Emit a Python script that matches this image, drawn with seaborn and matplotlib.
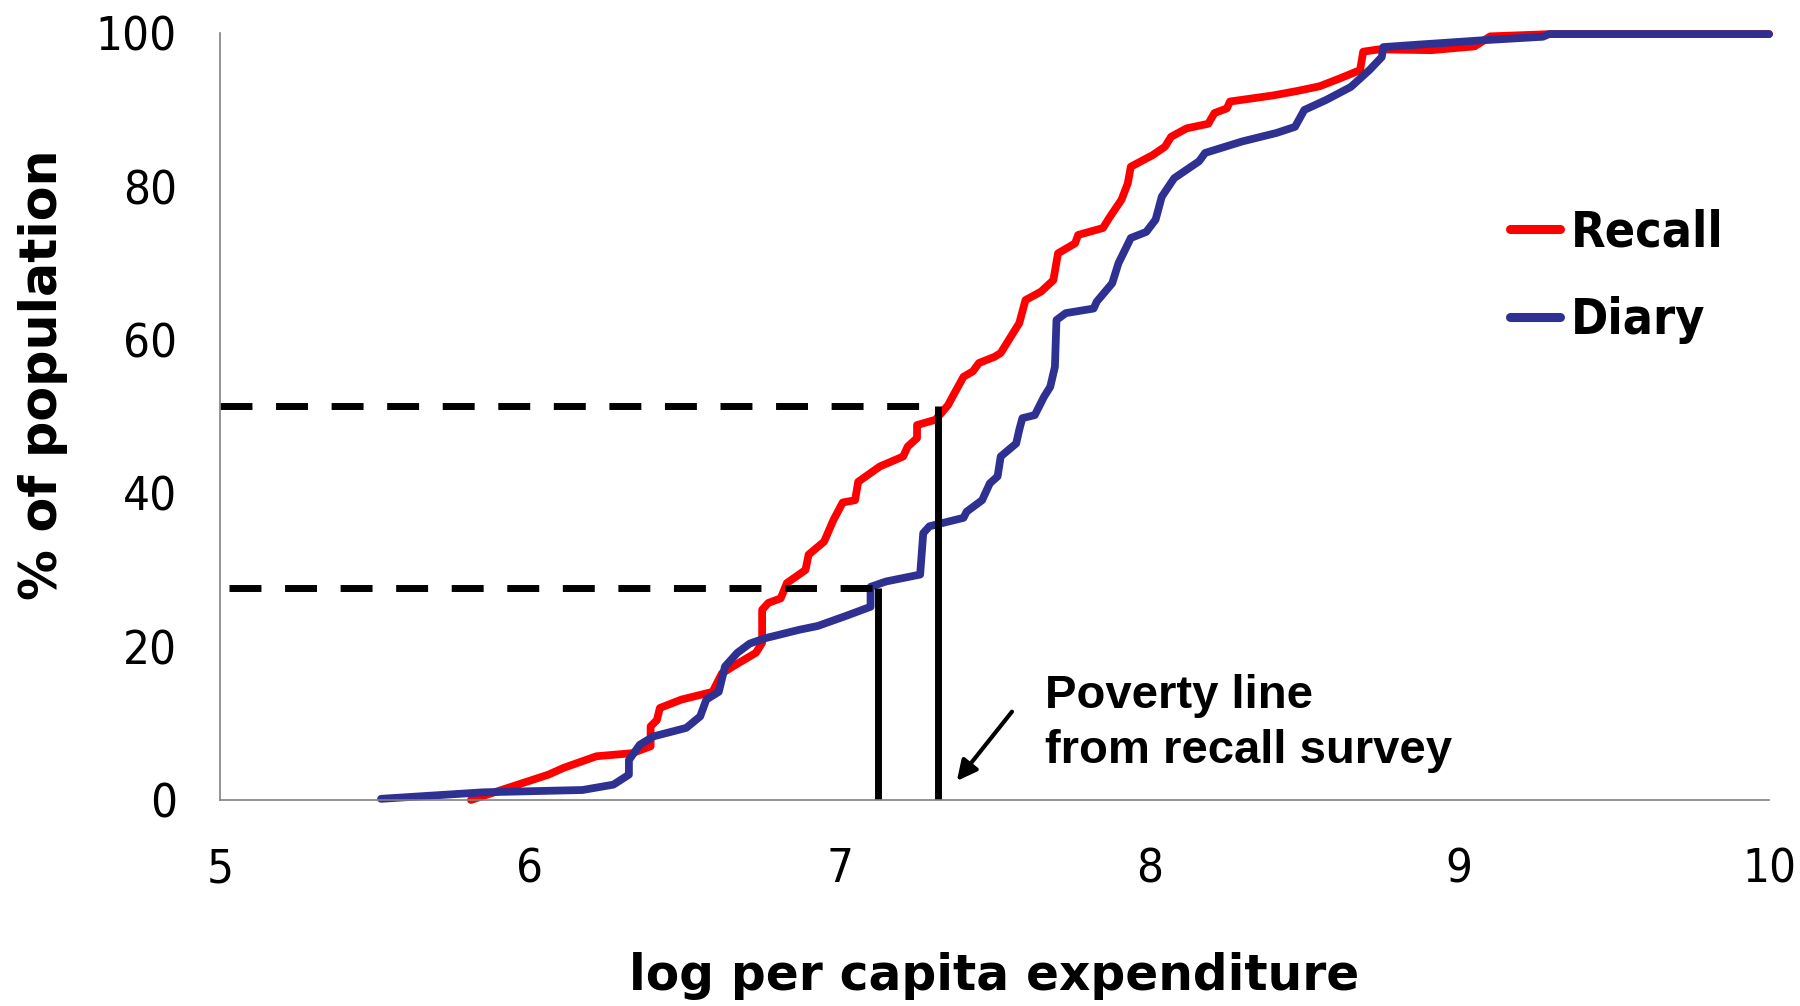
import numpy as np
import pandas as pd
import matplotlib
matplotlib.use("Agg")
import seaborn as sns
import matplotlib.pyplot as plt
from matplotlib.lines import Line2D

# cumulative distribution
recall_x = [5.81, 6.06, 6.11, 6.215, 6.33, 6.39, 6.39, 6.41, 6.42, 6.49, 6.59, 6.62, 6.655,
            6.73, 6.75, 6.75, 6.77, 6.81, 6.83, 6.89, 6.90, 6.95, 6.98, 7.01, 7.05, 7.06,
            7.13, 7.205, 7.22, 7.25, 7.25, 7.31, 7.35, 7.37, 7.40, 7.43, 7.45, 7.50, 7.52,
            7.58, 7.60, 7.65, 7.69, 7.705, 7.76, 7.77, 7.85, 7.87, 7.91, 7.93, 7.94, 8.01,
            8.05, 8.07, 8.12, 8.19, 8.21, 8.25, 8.26, 8.40, 8.48, 8.55, 8.62, 8.68, 8.69,
            8.74, 8.91, 9.05, 9.10, 9.30, 10.0]
recall_y = [0.0, 3.3, 4.2, 5.7, 6.1, 7.0, 9.6, 10.4, 12.0, 13.1, 14.1, 16.5, 17.4,
            19.2, 20.5, 24.8, 25.7, 26.3, 28.3, 30.0, 32.0, 33.7, 36.5, 38.8, 39.1, 41.5,
            43.5, 44.8, 46.1, 47.2, 48.9, 49.6, 51.5, 53.0, 55.2, 55.9, 57.0, 57.8, 58.3,
            62.2, 65.2, 66.3, 67.8, 71.3, 72.6, 73.7, 74.6, 75.9, 78.3, 80.4, 82.6, 84.1,
            85.2, 86.5, 87.6, 88.2, 89.6, 90.2, 91.1, 91.9, 92.5, 93.1, 94.2, 95.2, 97.6,
            97.9, 97.8, 98.3, 99.6, 99.9, 99.9]

diary_x = [5.52, 5.85, 6.17, 6.27, 6.32, 6.32, 6.355, 6.40, 6.505, 6.55, 6.57, 6.61, 6.63,
           6.67, 6.71, 6.76, 6.87, 6.93, 7.02, 7.10, 7.10, 7.15, 7.26, 7.27, 7.29, 7.40,
           7.41, 7.46, 7.485, 7.51, 7.52, 7.57, 7.58, 7.59, 7.63, 7.66, 7.68, 7.695, 7.70,
           7.73, 7.82, 7.83, 7.88, 7.90, 7.94, 7.99, 8.02, 8.04, 8.08, 8.16, 8.18, 8.30,
           8.41, 8.47, 8.50, 8.57, 8.65, 8.71, 8.75, 8.755, 8.86, 9.08, 9.27, 9.29, 10.0]
diary_y = [0.15, 1.0, 1.3, 2.0, 3.3, 5.2, 7.2, 8.3, 9.4, 10.9, 13.1, 14.1, 17.4,
           19.2, 20.4, 21.1, 22.2, 22.7, 24.0, 25.2, 27.8, 28.5, 29.4, 34.8, 35.7, 36.8,
           37.6, 39.1, 41.3, 42.2, 44.8, 46.5, 48.3, 49.8, 50.2, 52.6, 53.9, 56.5, 62.6,
           63.5, 64.1, 65.0, 67.4, 70.0, 73.3, 74.1, 75.7, 78.7, 81.1, 83.3, 84.4, 85.9,
           87.0, 87.8, 90.0, 91.3, 93.0, 95.2, 96.9, 98.2, 98.5, 99.1, 99.55, 99.9, 99.9]

# poverty line from recall survey and the matching one for the diary
poverty_x = [7.123, 7.318]
headcount = [27.7, 51.4]
dash_start = [5.03, 5.0]

colors = {"Recall": "#FF0000", "Diary": "#2E3192"}

df = pd.concat([
    pd.DataFrame({"x": recall_x, "y": recall_y, "survey": "Recall"}),
    pd.DataFrame({"x": diary_x, "y": diary_y, "survey": "Diary"}),
])

sns.set_style("white")
plt.rcParams["font.family"] = ["DejaVu Sans"]
plt.rcParams["text.color"] = "black"
plt.rcParams["axes.labelcolor"] = "black"

fig = plt.figure(figsize=(18, 10.06), dpi=100)
ax = fig.add_axes([0.1222, 0.2048, 0.8606, 0.7621])

sns.lineplot(data=df, x="x", y="y", hue="survey", hue_order=["Recall", "Diary"],
             palette=colors, sort=False, estimator=None, ax=ax, legend=False)
for ln in ax.lines:
    ln.set_linewidth(5.6)
    ln.set_solid_capstyle("round")
    ln.set_solid_joinstyle("round")
    ln.set_clip_on(False)

for px, hc, x0 in zip(poverty_x, headcount, dash_start):
    ax.plot([x0, px], [hc, hc], color="black", lw=5, dashes=(4.6, 3.4),
            solid_capstyle="butt")
    ax.plot([px, px], [0, hc], color="black", lw=5, solid_capstyle="butt")

ax.text(7.663, 16.4, "Poverty line\nfrom recall survey", family="Liberation Sans",
        weight="bold", fontsize=34, va="top", ha="left", linespacing=1.32)
ax.annotate("", xy=(7.373, 2.2), xytext=(7.562, 11.8),
            arrowprops=dict(arrowstyle="-|>", lw=3, color="black", mutation_scale=30))

ax.set_xlim(5, 10)
ax.set_ylim(0, 100)
ax.set_xticks([5, 6, 7, 8, 9, 10])
ax.set_yticks([0, 20, 40, 60, 80, 100])
ax.tick_params(axis="both", length=11, width=1, color="#808080", labelcolor="black",
               direction="out")
ax.tick_params(axis="y", pad=20)
ax.tick_params(axis="x", pad=23)
for lab in ax.get_xticklabels() + ax.get_yticklabels():
    lab.set_fontsize(34)
    lab.set_fontstretch("condensed")
sns.despine(ax=ax)
for side in ["left", "bottom"]:
    ax.spines[side].set_color("#808080")
    ax.spines[side].set_linewidth(1.2)

ax.set_xlabel("log per capita expenditure", fontsize=35, weight="bold", labelpad=43)
ax.set_ylabel("% of population", fontsize=36.5, weight="bold")
ax.yaxis.set_label_coords(-0.098, 0.555)

handles = [Line2D([], [], color=colors[k], lw=6.5, solid_capstyle="round")
           for k in ["Recall", "Diary"]]
ax.legend(handles, ["Recall", "Diary"], loc="upper left", bbox_to_anchor=(0.833, 0.772),
          frameon=False,
          prop=dict(family="DejaVu Sans", weight="bold", size=36, stretch="condensed"),
          handlelength=1.0, handletextpad=0.22, labelspacing=0.8, borderpad=0,
          borderaxespad=0)

fig.savefig("out.png", dpi=100)
plt.close(fig)
